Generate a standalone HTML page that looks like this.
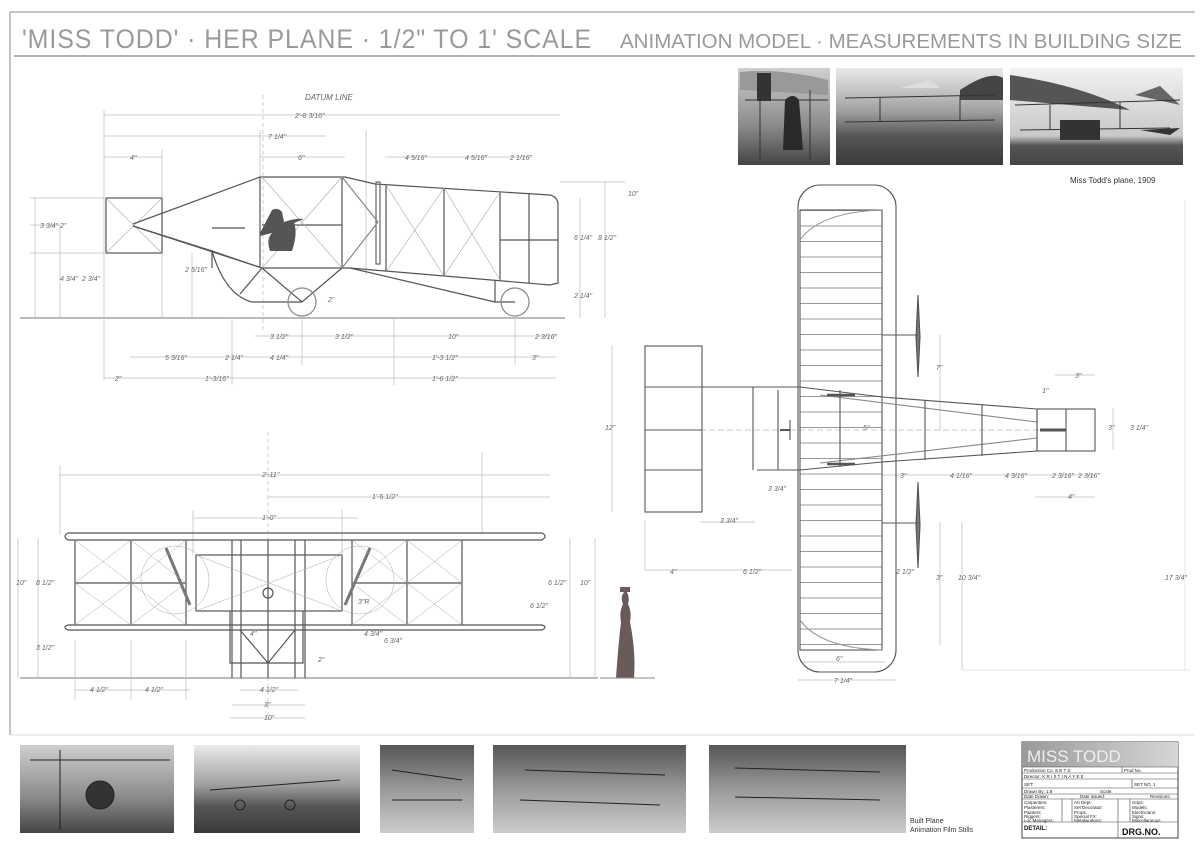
<!DOCTYPE html>
<html><head><meta charset="utf-8"><style>
html,body{margin:0;padding:0;background:#fff}
svg{display:block}
text{font-family:"Liberation Sans",sans-serif;fill:#666}
.t{font-size:7px;fill:#777;font-style:italic}
</style></head><body>
<svg width="1200" height="849" viewBox="0 0 1200 849" xmlns="http://www.w3.org/2000/svg">
<defs>
<linearGradient id="ph1" x1="0" y1="0" x2="0" y2="1"><stop offset="0" stop-color="#cfcfcf"/><stop offset="0.6" stop-color="#8a8a8a"/><stop offset="1" stop-color="#444"/></linearGradient>
<linearGradient id="ph2" x1="0" y1="0" x2="0" y2="1"><stop offset="0" stop-color="#eaeaea"/><stop offset="0.45" stop-color="#a0a0a0"/><stop offset="0.7" stop-color="#555"/><stop offset="1" stop-color="#3a3a3a"/></linearGradient>
<linearGradient id="ph4" x1="0" y1="0" x2="0" y2="1"><stop offset="0" stop-color="#f2f2f2"/><stop offset="0.7" stop-color="#c8c8c8"/><stop offset="0.8" stop-color="#555"/><stop offset="1" stop-color="#444"/></linearGradient>
<linearGradient id="ph3" x1="0" y1="0" x2="0" y2="1"><stop offset="0" stop-color="#555"/><stop offset="0.5" stop-color="#999"/><stop offset="1" stop-color="#ccc"/></linearGradient>
<linearGradient id="tb" x1="0" y1="0" x2="1" y2="0"><stop offset="0" stop-color="#9a9a9a"/><stop offset="1" stop-color="#d6d6d6"/></linearGradient>
<pattern id="ribs" x="0" y="210" width="10" height="15.5" patternUnits="userSpaceOnUse"><line x1="0" y1="0.5" x2="10" y2="0.5" stroke="#999" stroke-width="1"/></pattern>
</defs>

<!-- frame -->
<g stroke="#888" fill="none">
<line x1="10" y1="12" x2="1195" y2="12" stroke-width="1"/>
<line x1="10" y1="12" x2="10" y2="735" stroke-width="1"/>
<line x1="14" y1="56" x2="1195" y2="56" stroke-width="1.5" stroke="#999"/>
<line x1="10" y1="735" x2="1195" y2="735" stroke="#ddd"/>
</g>
<text x="22" y="48" font-size="27" style="fill:#9a9a9a;letter-spacing:1px" textLength="570" lengthAdjust="spacingAndGlyphs">'MISS TODD' · HER PLANE · 1/2" TO 1' SCALE</text>
<text x="620" y="48" font-size="20" style="fill:#9a9a9a" textLength="562" lengthAdjust="spacingAndGlyphs">ANIMATION MODEL · MEASUREMENTS IN BUILDING SIZE</text>

<!-- top photos -->
<rect x="738" y="68" width="92" height="97" fill="url(#ph1)"/>
<rect x="836" y="68" width="167" height="97" fill="url(#ph2)"/>
<rect x="1010" y="68" width="173" height="97" fill="url(#ph4)"/>
<path d="M740 72 Q780 68 828 80 L828 95 L740 90 Z" fill="#999"/>
<rect x="757" y="73" width="14" height="28" fill="#333"/>
<path d="M785 100 q8 -8 14 0 l4 50 h-20 z" fill="#2a2a2a"/>
<path d="M900 88 L930 80 L940 88 Z" fill="#ddd"/>
<path d="M960 90 Q990 70 1003 78 L1003 100 L960 100 Z" fill="#444"/>
<path d="M1010 75 Q1080 85 1130 110 L1010 100 Z" fill="#555"/>
<path d="M1135 95 L1160 86 L1180 105 Z" fill="#666"/>
<path d="M1140 130 L1180 128 L1170 135 Z" fill="#333"/>
<path d="M1060 120 h40 v20 h-40 z" fill="#333"/>
<g stroke="#333" stroke-width="1" fill="none">
<line x1="745" y1="100" x2="828" y2="100"/><line x1="760" y1="85" x2="760" y2="160"/><line x1="810" y1="90" x2="810" y2="160"/>
<line x1="845" y1="98" x2="995" y2="95"/><line x1="845" y1="122" x2="995" y2="120"/><line x1="880" y1="98" x2="880" y2="122"/><line x1="960" y1="96" x2="960" y2="121"/>
<line x1="1015" y1="105" x2="1180" y2="100"/><line x1="1020" y1="130" x2="1170" y2="128"/><line x1="1050" y1="105" x2="1050" y2="130"/><line x1="1120" y1="102" x2="1120" y2="129"/>
</g>
<text x="1070" y="183" font-size="8" style="fill:#333">Miss Todd's plane, 1909</text>

<!-- SIDE VIEW dims -->
<g stroke="#bbb" stroke-width="0.7" fill="none">
<line x1="20" y1="318" x2="565" y2="318" stroke="#777" stroke-width="1"/>
<line x1="104" y1="115" x2="560" y2="115"/>
<line x1="104" y1="136" x2="326" y2="136"/>
<line x1="104" y1="157" x2="162" y2="157"/><line x1="260" y1="157" x2="345" y2="157"/><line x1="385" y1="157" x2="530" y2="157"/>
<line x1="263" y1="95" x2="263" y2="330" stroke-dasharray="4 3"/>
<line x1="104" y1="110" x2="104" y2="380"/><line x1="162" y1="150" x2="162" y2="318"/><line x1="260" y1="130" x2="260" y2="180"/><line x1="366" y1="130" x2="366" y2="275"/>
<line x1="30" y1="198" x2="104" y2="198"/><line x1="30" y1="225" x2="60" y2="225"/><line x1="30" y1="253" x2="104" y2="253"/>
<line x1="35" y1="198" x2="35" y2="318"/><line x1="60" y1="225" x2="60" y2="318"/><line x1="192" y1="253" x2="192" y2="318"/>
<line x1="560" y1="182" x2="625" y2="182"/><line x1="580" y1="198" x2="580" y2="318"/><line x1="605" y1="182" x2="605" y2="318"/>
<line x1="255" y1="336" x2="556" y2="336"/><line x1="130" y1="357" x2="556" y2="357"/><line x1="104" y1="378" x2="556" y2="378"/>
<line x1="232" y1="318" x2="232" y2="385"/><line x1="302" y1="318" x2="302" y2="365"/><line x1="394" y1="318" x2="394" y2="385"/><line x1="515" y1="318" x2="515" y2="365"/>
</g>
<g class="t">
<text x="305" y="100" style="font-size:8px">DATUM LINE</text>
<text x="295" y="118">2'-8 3/16"</text><text x="268" y="139">7 1/4"</text>
<text x="130" y="160">4"</text><text x="298" y="160">6"</text><text x="405" y="160">4 5/16"</text><text x="465" y="160">4 5/16"</text><text x="510" y="160">2 1/16"</text>
<text x="40" y="228">3 3/4"</text><text x="60" y="228">2"</text><text x="60" y="281">4 3/4"</text><text x="82" y="281">2 3/4"</text><text x="185" y="272">2 5/16"</text>
<text x="628" y="196">10"</text><text x="574" y="240">6 1/4"</text><text x="598" y="240">8 1/2"</text><text x="574" y="298">2 1/4"</text><text x="328" y="302">2"</text>
<text x="270" y="339">3 1/2"</text><text x="335" y="339">3 1/2"</text><text x="448" y="339">10"</text><text x="535" y="339">2 3/16"</text>
<text x="165" y="360">5 3/16"</text><text x="225" y="360">2 1/4"</text><text x="270" y="360">4 1/4"</text><text x="432" y="360">1'-3 1/2"</text><text x="532" y="360">3"</text>
<text x="115" y="381">2"</text><text x="205" y="381">1'-3/16"</text><text x="432" y="381">1'-6 1/2"</text>
</g>
<!-- side view plane -->
<g stroke="#555" stroke-width="1.2" fill="none">
<rect x="106" y="198" width="56" height="55"/>
<line x1="106" y1="198" x2="162" y2="253" stroke="#aaa" stroke-width="0.6"/><line x1="162" y1="198" x2="106" y2="253" stroke="#aaa" stroke-width="0.6"/>
<path d="M133 224 L260 177 L345 177 L375 184 L550 195 Q558 197 558 205 L558 283 L550 285 L350 268 L262 268 L133 226"/>
<path d="M133 226 L212 251 L262 268"/>
<line x1="212" y1="250" x2="212" y2="268"/>
<path d="M212 251 Q225 295 252 302 L302 302"/>
<line x1="260" y1="177" x2="260" y2="268"/><line x1="342" y1="177" x2="342" y2="268"/>
<line x1="212" y1="228" x2="245" y2="228"/><line x1="262" y1="225" x2="342" y2="225"/>
<line x1="386" y1="185" x2="386" y2="272"/><line x1="444" y1="188" x2="444" y2="276"/><line x1="500" y1="192" x2="500" y2="280"/><line x1="529" y1="194" x2="529" y2="283"/>
<line x1="500" y1="240" x2="558" y2="240"/>
<path d="M262 268 L240 294 L262 268 L302 302 L342 268"/>
<line x1="350" y1="268" x2="495" y2="302"/><line x1="495" y1="280" x2="495" y2="302"/><line x1="495" y1="302" x2="515" y2="302"/>
<circle cx="302" cy="302" r="14" stroke="#888"/><circle cx="515" cy="302" r="14" stroke="#888"/>
<rect x="376" y="182" width="4" height="82" stroke="#666"/>
<line x1="342" y1="177" x2="378" y2="222" stroke="#888"/><line x1="342" y1="268" x2="378" y2="222" stroke="#888"/>
</g>
<g stroke="#aaa" stroke-width="0.6">
<line x1="386" y1="185" x2="444" y2="276"/><line x1="444" y1="188" x2="386" y2="272"/>
<line x1="444" y1="188" x2="500" y2="280"/><line x1="500" y1="192" x2="444" y2="276"/>
<line x1="262" y1="177" x2="342" y2="268"/><line x1="342" y1="177" x2="262" y2="268"/>
</g>
<path d="M272 210 q6 -3 10 2 l2 10 q12 -4 20 -3 l-10 4 q4 10 -2 28 l-22 0 q-4 -12 2 -18 l-12 3 l0 -3 z" fill="#555"/>

<!-- FRONT VIEW -->
<g stroke="#bbb" stroke-width="0.7" fill="none">
<line x1="20" y1="678" x2="598" y2="678" stroke="#777" stroke-width="1"/>
<line x1="268" y1="432" x2="268" y2="720" stroke-dasharray="4 3"/>
<line x1="60" y1="475" x2="550" y2="475"/><line x1="268" y1="497" x2="550" y2="497"/><line x1="193" y1="518" x2="358" y2="518"/>
<line x1="60" y1="465" x2="60" y2="535"/><line x1="482" y1="452" x2="482" y2="535"/><line x1="193" y1="510" x2="193" y2="555"/><line x1="342" y1="510" x2="342" y2="555"/>
<line x1="18" y1="538" x2="18" y2="678"/><line x1="38" y1="538" x2="38" y2="678"/><line x1="570" y1="538" x2="570" y2="678"/><line x1="595" y1="538" x2="595" y2="678"/>
<line x1="75" y1="690" x2="190" y2="690"/><line x1="240" y1="690" x2="298" y2="690"/><line x1="232" y1="705" x2="305" y2="705"/><line x1="230" y1="718" x2="305" y2="718"/>
<line x1="75" y1="640" x2="75" y2="700"/><line x1="131" y1="640" x2="131" y2="700"/><line x1="186" y1="640" x2="186" y2="700"/>
</g>
<g class="t">
<text x="262" y="477">2'-11"</text><text x="372" y="499">1'-5 1/2"</text><text x="262" y="520">1'-0"</text>
<text x="16" y="585">10"</text><text x="36" y="585">8 1/2"</text><text x="36" y="650">3 1/2"</text><text x="250" y="636">4"</text>
<text x="364" y="636">4 3/4"</text><text x="384" y="643">6 3/4"</text><text x="358" y="604">3"R</text><text x="318" y="662">2"</text>
<text x="548" y="585">6 1/2"</text><text x="530" y="608">6 1/2"</text><text x="580" y="585">10"</text>
<text x="90" y="692">4 1/2"</text><text x="145" y="692">4 1/2"</text><text x="260" y="692">4 1/2"</text><text x="264" y="707">3"</text><text x="264" y="720">10"</text>
</g>
<g stroke="#555" stroke-width="1.2" fill="none">
<path d="M68 533 L542 533 Q548 536 542 540 L68 540 Q62 536 68 533"/>
<path d="M68 625 L542 625 Q548 627 542 630 L68 630 Q62 627 68 625"/>
<line x1="75" y1="540" x2="75" y2="625"/><line x1="131" y1="540" x2="131" y2="625"/><line x1="186" y1="540" x2="186" y2="625"/>
<line x1="352" y1="540" x2="352" y2="625"/><line x1="407" y1="540" x2="407" y2="625"/><line x1="462" y1="540" x2="462" y2="625"/>
<line x1="75" y1="583" x2="186" y2="583"/><line x1="352" y1="583" x2="462" y2="583"/>
<rect x="196" y="555" width="146" height="56"/>
<line x1="232" y1="540" x2="232" y2="678"/><line x1="241" y1="540" x2="241" y2="678"/><line x1="295" y1="540" x2="295" y2="678"/><line x1="305" y1="540" x2="305" y2="678"/>
<line x1="268" y1="540" x2="268" y2="678"/>
<path d="M230 611 L230 663 L303 663 L303 611 M240 630 L268 663 L295 630"/>
<circle cx="268" cy="593" r="5"/>
<path d="M166 548 L190 605 M370 548 L345 605" stroke-width="3" stroke="#777"/>
</g>
<g stroke="#aaa" stroke-width="0.5" fill="none">
<path d="M75 540 L131 583 M131 540 L75 583 M75 583 L131 625 M131 583 L75 625 M131 540 L186 583 M186 540 L131 583 M131 583 L186 625 M186 583 L131 625"/>
<path d="M352 540 L407 583 M407 540 L352 583 M352 583 L407 625 M407 583 L352 625 M407 540 L462 583 M462 540 L407 583 M407 583 L462 625 M462 583 L407 625"/>
<path d="M196 555 L342 611 M342 555 L196 611"/>
<circle cx="175" cy="580" r="34"/><circle cx="360" cy="580" r="34"/>
</g>

<!-- woman -->
<path d="M620 587 h10 v5 h-3 q3 6 1 12 q4 8 2 18 q6 30 4 56 h-18 q2 -30 5 -56 q-2 -10 2 -18 q-3 -6 1 -12 h-4z" fill="#6a5a5a"/>
<line x1="600" y1="678" x2="655" y2="678" stroke="#888"/>

<!-- TOP VIEW -->
<g stroke="#bbb" stroke-width="0.7" fill="none">
<line x1="612" y1="345" x2="612" y2="512"/><line x1="645" y1="520" x2="645" y2="570"/><line x1="645" y1="570" x2="792" y2="570"/>
<line x1="700" y1="522" x2="755" y2="522"/><line x1="882" y1="475" x2="1095" y2="475"/><line x1="1035" y1="497" x2="1095" y2="497"/>
<line x1="940" y1="335" x2="940" y2="430"/><line x1="940" y1="522" x2="940" y2="645"/><line x1="962" y1="522" x2="962" y2="670"/>
<line x1="800" y1="662" x2="885" y2="662"/><line x1="798" y1="680" x2="896" y2="680"/><line x1="962" y1="670" x2="1190" y2="670" stroke="#ddd"/>
<line x1="1055" y1="375" x2="1095" y2="375"/><line x1="1113" y1="408" x2="1113" y2="450"/>
<line x1="1185" y1="200" x2="1185" y2="670" stroke="#ddd"/>
<line x1="655" y1="430" x2="1040" y2="430" stroke-dasharray="6 3"/>
</g>
<g class="t">
<text x="605" y="430">12"</text><text x="720" y="523">3 3/4"</text><text x="768" y="491">3 3/4"</text><text x="670" y="574">4"</text><text x="743" y="574">6 1/2"</text>
<text x="863" y="430">5"</text><text x="936" y="370">7"</text><text x="896" y="574">2 1/2"</text><text x="936" y="580">3"</text><text x="958" y="580">10 3/4"</text>
<text x="900" y="478">3"</text><text x="950" y="478">4 1/16"</text><text x="1005" y="478">4 3/16"</text><text x="1052" y="478">2 3/16"</text><text x="1078" y="478">2 3/16"</text><text x="1068" y="499">4"</text>
<text x="1075" y="378">3"</text><text x="1042" y="393">1"</text><text x="1108" y="430">3"</text><text x="1130" y="430">3 1/4"</text><text x="836" y="661">6"</text><text x="834" y="683">7 1/4"</text><text x="1165" y="580">17 3/4"</text>
</g>
<g stroke="#555" stroke-width="1.1" fill="none">
<rect x="798" y="185" width="98" height="487" rx="22"/>
<rect x="800" y="210" width="82" height="440" fill="url(#ribs)"/>
<path d="M800 240 Q820 212 882 210 M800 620 Q820 648 882 650" stroke="#999"/>
<rect x="645" y="346" width="57" height="166"/>
<line x1="645" y1="387" x2="702" y2="387"/><line x1="645" y1="470" x2="702" y2="470"/><line x1="645" y1="430" x2="702" y2="430"/>
<line x1="702" y1="387" x2="800" y2="387"/><line x1="757" y1="470" x2="800" y2="470"/><line x1="753" y1="387" x2="753" y2="470"/><line x1="778" y1="390" x2="778" y2="470"/>
<path d="M800 387 L882 397 L1037 409 M800 470 L882 462 L1037 451"/>
<path d="M820 395 L1037 422 M820 463 L1037 438" stroke="#888"/>
<line x1="925" y1="400" x2="925" y2="460"/><line x1="982" y1="404" x2="982" y2="456"/><line x1="1037" y1="409" x2="1037" y2="451"/>
<rect x="1037" y="409" width="58" height="42"/><line x1="1066" y1="409" x2="1066" y2="451"/>
<line x1="840" y1="390" x2="840" y2="467"/>
<line x1="827" y1="395" x2="855" y2="395" stroke-width="2.5"/><line x1="827" y1="464" x2="855" y2="464" stroke-width="2.5"/>
<line x1="1040" y1="430" x2="1066" y2="430" stroke-width="3"/>
<path d="M918 295 L920 337 L918 377 L916 337 Z" fill="#777"/><path d="M918 482 L920 525 L918 568 L916 525 Z" fill="#777"/>
<line x1="882" y1="335" x2="918" y2="335"/><line x1="882" y1="523" x2="918" y2="523"/>
<line x1="780" y1="430" x2="790" y2="430" stroke-width="2"/><line x1="790" y1="420" x2="790" y2="440"/>
</g>

<!-- bottom photos -->
<rect x="20" y="745" width="154" height="88" fill="url(#ph1)"/>
<rect x="194" y="745" width="166" height="88" fill="url(#ph2)"/>
<rect x="380" y="745" width="94" height="88" fill="url(#ph3)"/>
<rect x="493" y="745" width="193" height="88" fill="url(#ph3)"/>
<rect x="709" y="745" width="197" height="88" fill="url(#ph3)"/>
<g stroke="#222" stroke-width="1" fill="none">
<line x1="30" y1="760" x2="170" y2="760"/><line x1="60" y1="750" x2="60" y2="830"/><circle cx="100" cy="795" r="14" fill="#333"/>
<line x1="210" y1="790" x2="340" y2="780"/><circle cx="240" cy="805" r="5"/><circle cx="290" cy="805" r="5"/>
<line x1="392" y1="770" x2="462" y2="780"/><line x1="392" y1="800" x2="462" y2="800"/>
<line x1="525" y1="770" x2="665" y2="775"/><line x1="520" y1="800" x2="660" y2="805"/>
<line x1="735" y1="768" x2="880" y2="772"/><line x1="735" y1="797" x2="880" y2="800"/>
</g>
<text x="910" y="823" font-size="7" style="fill:#333">Built Plane</text>
<text x="910" y="832" font-size="7" style="fill:#333">Animation Film Stills</text>

<!-- title block -->
<rect x="1022" y="742" width="156" height="96" fill="#fff" stroke="#444"/>
<rect x="1022" y="742" width="156" height="25" fill="url(#tb)"/>
<text x="1027" y="762" font-size="17" style="fill:#eee">MISS TODD</text>
<g stroke="#444" stroke-width="0.6">
<line x1="1022" y1="767" x2="1178" y2="767"/><line x1="1022" y1="773" x2="1178" y2="773"/><line x1="1022" y1="779" x2="1178" y2="779"/>
<line x1="1022" y1="788" x2="1178" y2="788"/><line x1="1022" y1="794" x2="1178" y2="794"/><line x1="1022" y1="799" x2="1178" y2="799"/>
<line x1="1022" y1="822" x2="1178" y2="822"/><line x1="1122" y1="767" x2="1122" y2="773"/><line x1="1132" y1="779" x2="1132" y2="788"/>
<line x1="1062" y1="799" x2="1062" y2="822"/><line x1="1072" y1="799" x2="1072" y2="822"/><line x1="1118" y1="799" x2="1118" y2="838"/><line x1="1130" y1="799" x2="1130" y2="822"/>
</g>
<g font-size="4.5" style="font-family:'Liberation Serif',serif">
<text x="1024" y="772" style="fill:#222">Production Co. S E T S</text><text x="1124" y="772" style="fill:#222">Prod No.</text>
<text x="1024" y="778" style="fill:#222">Director: K R I S T I N A  Y E E</text>
<text x="1024" y="786" style="fill:#222">SET:</text><text x="1134" y="786" style="fill:#222">SET NO. 1</text>
<text x="1024" y="793" style="fill:#222">Drawn By: 1:8</text><text x="1100" y="793" style="fill:#222">Scale:</text>
<text x="1024" y="798" style="fill:#222">Date Drawn:</text><text x="1080" y="798" style="fill:#222">Date issued:</text><text x="1150" y="798" style="fill:#222">Revisions:</text>
<text x="1024" y="804" style="fill:#222">Carpenters:</text><text x="1074" y="804" style="fill:#222">Art Dept:</text><text x="1132" y="804" style="fill:#222">Grips:</text>
<text x="1024" y="809" style="fill:#222">Plasterers:</text><text x="1074" y="809" style="fill:#222">Set Decorator:</text><text x="1132" y="809" style="fill:#222">Models:</text>
<text x="1024" y="814" style="fill:#222">Painters:</text><text x="1074" y="814" style="fill:#222">Props:</text><text x="1132" y="814" style="fill:#222">Electricians:</text>
<text x="1024" y="818" style="fill:#222">Riggers:</text><text x="1074" y="818" style="fill:#222">Special FX:</text><text x="1132" y="818" style="fill:#222">Signs:</text>
<text x="1024" y="822" style="fill:#222">Loc Managers:</text><text x="1074" y="822" style="fill:#222">Metalworkers:</text><text x="1132" y="822" style="fill:#222">Miscellaneous</text>
<text x="1024" y="830" font-size="6" font-weight="bold" style="fill:#111">DETAIL:</text>
<text x="1122" y="835" font-size="9" font-weight="bold" style="fill:#111">DRG.NO.</text>
</g>
</svg>
</body></html>
